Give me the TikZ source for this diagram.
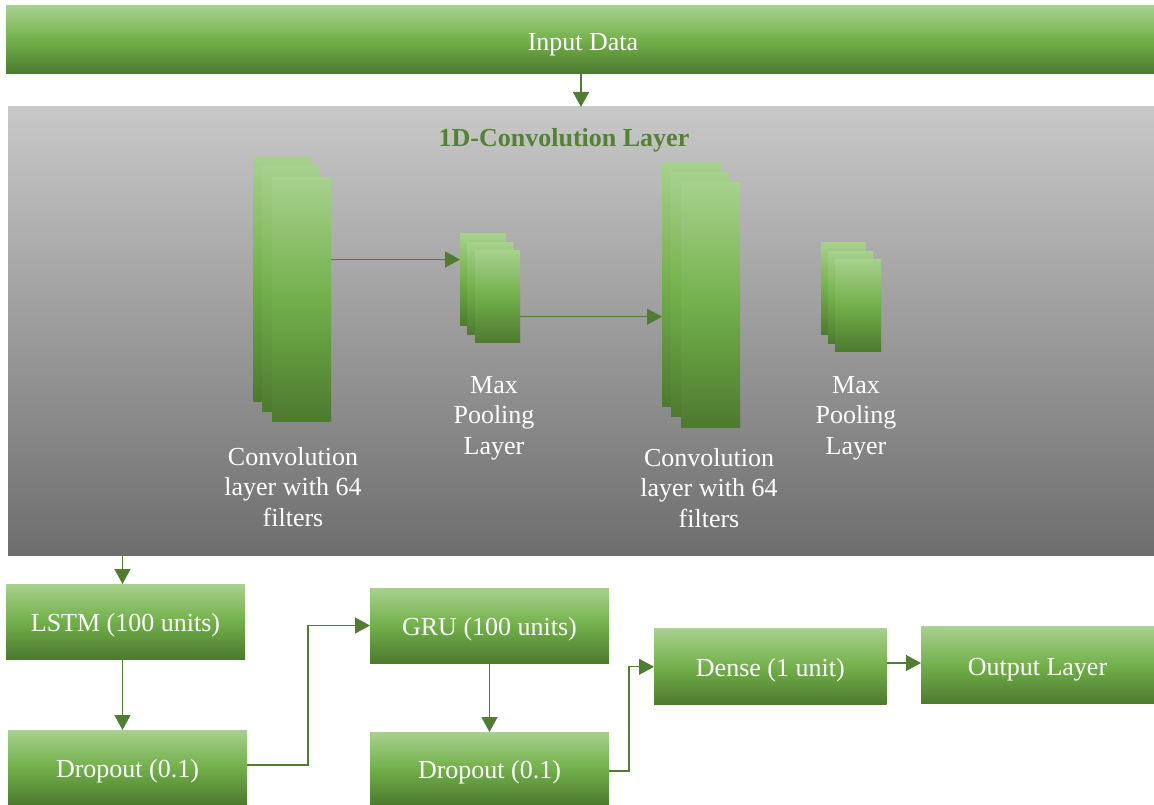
\documentclass[tikz,border=0pt]{standalone}
\usepackage{fontspec}
\setmainfont{Liberation Serif}
\usetikzlibrary{arrows.meta,calc}
\definecolor{gL}{RGB}{167,209,141}
\definecolor{gM}{RGB}{114,176,74}
\definecolor{gD}{RGB}{76,122,47}
\definecolor{arrc}{RGB}{80,125,50}
\definecolor{titc}{RGB}{84,130,53}
\definecolor{grT}{RGB}{200,200,200}
\definecolor{grB}{RGB}{110,110,110}
\tikzset{
  gbox/.style={inner sep=0pt, outer sep=0pt, top color=gL, bottom color=gD, middle color=gM,
    text=white, font=\fontsize{26}{30.5}\selectfont, align=center, text height=20pt, text depth=0pt},
  layer/.style={inner sep=0pt, outer sep=0pt, top color=gL, bottom color=gD, middle color=gM},
  lbl/.style={text=white, font=\fontsize{26}{30.5}\selectfont, align=center, inner sep=0pt},
  arr/.style={draw=arrc, line width=1.3pt, -{Triangle[length=15pt,width=16pt]}},
  arrn/.style={draw=arrc, line width=1.3pt}
}
\begin{document}
\begin{tikzpicture}[x=1pt,y=-1pt]
\useasboundingbox (0,0) rectangle (1154,805);
% input bar
\node[gbox, minimum width=1148pt, minimum height=68pt] (inp) at (580,40) {};
\node[lbl, text height=20pt, text depth=0pt] (inpt) at (583,41) {Input Data};
% gray panel
\node[inner sep=0pt, outer sep=0pt, top color=grT, bottom color=grB, minimum width=1146pt, minimum height=448pt] (gray) at (581,331) {};
\node[font=\fontsize{26}{30}\selectfont\bfseries, text=titc, inner sep=0pt, text height=20pt, text depth=0pt] (title) at (564,137) {1D-Convolution Layer};
% conv1 stack
\node[layer, minimum width=58.5pt, minimum height=244.5pt] (c1a) at (282.5,279.5) {};
\node[layer, minimum width=57.7pt, minimum height=245.7pt] (c1b) at (290.9,288.9) {};
\node[layer, minimum width=59pt, minimum height=244.5pt] (c1c) at (301.5,299.5) {};
% pool1 stack
\node[layer, minimum width=46pt, minimum height=92.5pt] (p1a) at (483,279.5) {};
\node[layer, minimum width=46pt, minimum height=92.7pt] (p1b) at (490,288.4) {};
\node[layer, minimum width=45pt, minimum height=92.7pt] (p1c) at (497.5,296.4) {};
% conv2 stack
\node[layer, minimum width=59pt, minimum height=244.7pt] (c2a) at (691.5,284.4) {};
\node[layer, minimum width=58pt, minimum height=244.7pt] (c2b) at (700,294.4) {};
\node[layer, minimum width=59pt, minimum height=245.7pt] (c2c) at (710.5,304.9) {};
% pool2 stack
\node[layer, minimum width=44.7pt, minimum height=92.7pt] (p2a) at (843.4,288.4) {};
\node[layer, minimum width=45pt, minimum height=92.7pt] (p2b) at (850.5,297.4) {};
\node[layer, minimum width=46pt, minimum height=92.7pt] (p2c) at (858,305.4) {};
% labels
\node[lbl] (l1) at (293,487) {Convolution\\layer with 64\\filters};
\node[lbl] (l2) at (494,418) {Max\\Pooling\\Layer};
\node[lbl] (l3) at (709,488) {Convolution\\layer with 64\\filters};
\node[lbl] (l4) at (856,418) {Max\\Pooling\\Layer};
% conv arrows
\draw[arr] (c1c.east |- 0,259.5) -- (p1a.west |- 0,259.5);
\draw[arr] (p1c.east |- 0,316.7) -- (c2a.west |- 0,316.7);
% bottom boxes
\node[gbox, minimum width=239pt, minimum height=75pt] (lstm) at (125.5,621.5) {LSTM (100 units)};
\node[gbox, minimum width=239pt, minimum height=75pt] (drop1) at (127.5,767.5) {Dropout (0.1)};
\node[gbox, minimum width=239pt, minimum height=75pt] (gru) at (489.5,625.5) {GRU (100 units)};
\node[gbox, minimum width=239pt, minimum height=73pt] (drop2) at (489.5,768.5) {Dropout (0.1)};
\node[gbox, minimum width=232.6pt, minimum height=75.7pt] (dense) at (770.3,666.8) {Dense (1 unit)};
\node[gbox, minimum width=233pt, minimum height=76.7pt] (outp) at (1037.5,665.3) {Output Layer};
% connectors
\draw[arr] (inp.south -| 581,0) -- (gray.north -| 581,0);
\draw[arr] (gray.south -| 122.5,0) -- (lstm.north -| 122.5,0);
\draw[arr] (lstm.south -| 122.5,0) -- (drop1.north -| 122.5,0);
\draw[arr] (drop1.east |- 0,765) -- (308,765) |- (gru.west);
\draw[arr] (gru.south) -- (drop2.north);
\draw[arr] (drop2.east |- 0,771) -- (629,771) |- (dense.west);
\draw[arr] (dense.east |- 0,663) -- (outp.west |- 0,663);
\end{tikzpicture}
\end{document}
